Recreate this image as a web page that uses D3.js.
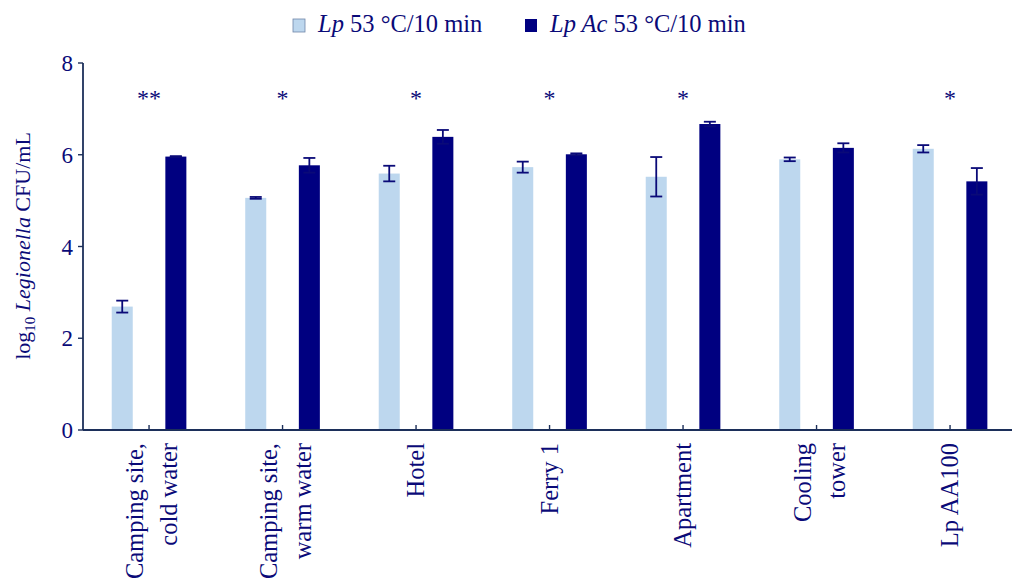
<!DOCTYPE html>
<html>
<head>
<meta charset="utf-8">
<script src="https://cdn.jsdelivr.net/npm/d3@7"></script>
<style>
  body { margin: 0; background: #fff; }
  text { font-family: "Liberation Serif", "Times New Roman", serif; fill: #0a0a78; }
</style>
</head>
<body>
<div id="chart"></div>
<script>
// data
var categories = ["Camping site, cold water", "Camping site, warm water", "Hotel", "Ferry 1",
                  "Apartment", "Cooling tower", "Lp AA100"];
var labelLines = [["Camping site,", "cold water"], ["Camping site,", "warm water"], ["Hotel"], ["Ferry 1"],
                  ["Apartment"], ["Cooling", "tower"], ["Lp AA100"]];
var lpMean = [2.69, 5.06, 5.59, 5.73, 5.52, 5.90, 6.13];
var lpErr  = [0.13, 0.02, 0.17, 0.12, 0.43, 0.04, 0.08];
var acMean = [5.96, 5.77, 6.39, 6.01, 6.67, 6.15, 5.42];
var acErr  = [0.01, 0.16, 0.15, 0.02, 0.05, 0.10, 0.29];
var stars  = ["**", "*", "*", "*", "*", "", "*"];
var yTicks = [0, 2, 4, 6, 8];

var svg_width = 1012, svg_height = 579;
var x0 = 82.3, yBottom = 430, yTop = 63;

var svg = d3.select("#chart").append("svg")
  .attr("width", svg_width)
  .attr("height", svg_height);

var x = d3.scaleBand().domain(categories).range([x0, x0 + 7 * 133.5]).padding(0);
var xSub = d3.scaleBand().domain(["lp", "ac"]).range([0, x.bandwidth()])
  .paddingInner(0.608).paddingOuter(0.549);
var y = d3.scaleLinear().domain([0, 8]).range([yBottom, yTop]);

var rows = categories.map(function(c, i) {
  return {cat: c, i: i, lines: labelLines[i],
          vals: [{key: "lp", v: lpMean[i], e: lpErr[i]}, {key: "ac", v: acMean[i], e: acErr[i]}]};
});
var fill = {lp: "#bdd7ee", ac: "#000080"};

// bars
var groups = svg.selectAll("g.grp").data(rows).enter().append("g")
  .attr("class", "grp")
  .attr("transform", d => `translate(${x(d.cat)},0)`);

groups.selectAll("rect").data(d => d.vals).enter().append("rect")
  .attr("x", d => xSub(d.key))
  .attr("width", xSub.bandwidth())
  .attr("y", d => y(d.v))
  .attr("height", d => y(0) - y(d.v))
  .attr("fill", d => fill[d.key]);

// error bars
var eb = groups.selectAll("g.err").data(d => d.vals).enter().append("g")
  .attr("class", "err")
  .attr("stroke", "#0a0a78")
  .attr("stroke-width", 1.8);
eb.append("line")
  .attr("x1", d => xSub(d.key) + xSub.bandwidth() / 2)
  .attr("x2", d => xSub(d.key) + xSub.bandwidth() / 2)
  .attr("y1", d => y(d.v - d.e))
  .attr("y2", d => y(d.v + d.e));
eb.selectAll("line.cap").data(d => [{key: d.key, yy: d.v - d.e}, {key: d.key, yy: d.v + d.e}])
  .enter().append("line")
  .attr("class", "cap")
  .attr("x1", d => xSub(d.key) + xSub.bandwidth() / 2 - 6)
  .attr("x2", d => xSub(d.key) + xSub.bandwidth() / 2 + 6)
  .attr("y1", d => y(d.yy))
  .attr("y2", d => y(d.yy));

// significance stars
groups.append("text")
  .attr("x", x.bandwidth() / 2)
  .attr("y", 106)
  .attr("text-anchor", "middle")
  .attr("font-size", 24)
  .text(d => stars[d.i]);

// axes
var axisColor = "#1c2f5a";
svg.append("line")
  .attr("x1", 83).attr("x2", 83).attr("y1", y(8)).attr("y2", y(0))
  .attr("stroke", axisColor).attr("stroke-width", 1.8);
svg.append("line")
  .attr("x1", 83).attr("x2", svg_width).attr("y1", y(0)).attr("y2", y(0))
  .attr("stroke", axisColor).attr("stroke-width", 1.8);

svg.selectAll("line.ytick").data(yTicks).enter().append("line")
  .attr("class", "ytick")
  .attr("x1", 78).attr("x2", 83)
  .attr("y1", d => y(d)).attr("y2", d => y(d))
  .attr("stroke", axisColor).attr("stroke-width", 1.4);
svg.selectAll("text.ylab").data(yTicks).enter().append("text")
  .attr("class", "ylab")
  .attr("x", 73)
  .attr("y", d => y(d))
  .attr("dy", "0.35em")
  .attr("text-anchor", "end")
  .attr("font-size", 23)
  .text(d => d);

svg.selectAll("line.xtick").data(categories).enter().append("line")
  .attr("class", "xtick")
  .attr("x1", d => x(d) + x.bandwidth() / 2).attr("x2", d => x(d) + x.bandwidth() / 2)
  .attr("y1", y(0) - 5).attr("y2", y(0))
  .attr("stroke", axisColor).attr("stroke-width", 1.4);

// category labels, rotated
rows.forEach(function(d) {
  var cx = x(d.cat) + x.bandwidth() / 2;
  var offs = d.lines.length === 1 ? [8] : [-6, 28];
  d.lines.forEach(function(line, k) {
    svg.append("text")
      .attr("transform", `translate(${cx + offs[k]}, 443) rotate(-90)`)
      .attr("text-anchor", "end")
      .attr("font-size", 24.5)
      .text(line);
  });
});

// y axis title
var yt = svg.append("text")
  .attr("transform", "translate(30, 246) rotate(-90)")
  .attr("text-anchor", "middle")
  .attr("font-size", 22);
yt.append("tspan").text("log");
yt.append("tspan").attr("font-size", 15).attr("dy", 5).text("10");
yt.append("tspan").attr("dy", -5).text(" ");
yt.append("tspan").attr("font-style", "italic").text("Legionella");
yt.append("tspan").text(" CFU/mL");

// legend
var legend = [{key: "lp", x: 293, it: "Lp", rest: " 53 °C/10 min"},
              {key: "ac", x: 525, it: "Lp Ac", rest: " 53 °C/10 min"}];
legend.forEach(function(l) {
  svg.append("rect")
    .attr("x", l.x).attr("y", 19).attr("width", 12).attr("height", 13)
    .attr("fill", fill[l.key])
    .attr("stroke", l.key === "lp" ? "#6f86a8" : "none")
    .attr("stroke-width", 0.8);
  var t = svg.append("text")
    .attr("x", l.x + 25).attr("y", 32)
    .attr("font-size", 24.5);
  t.append("tspan").attr("font-style", "italic").text(l.it);
  t.append("tspan").text(l.rest);
});
</script>
</body>
</html>
